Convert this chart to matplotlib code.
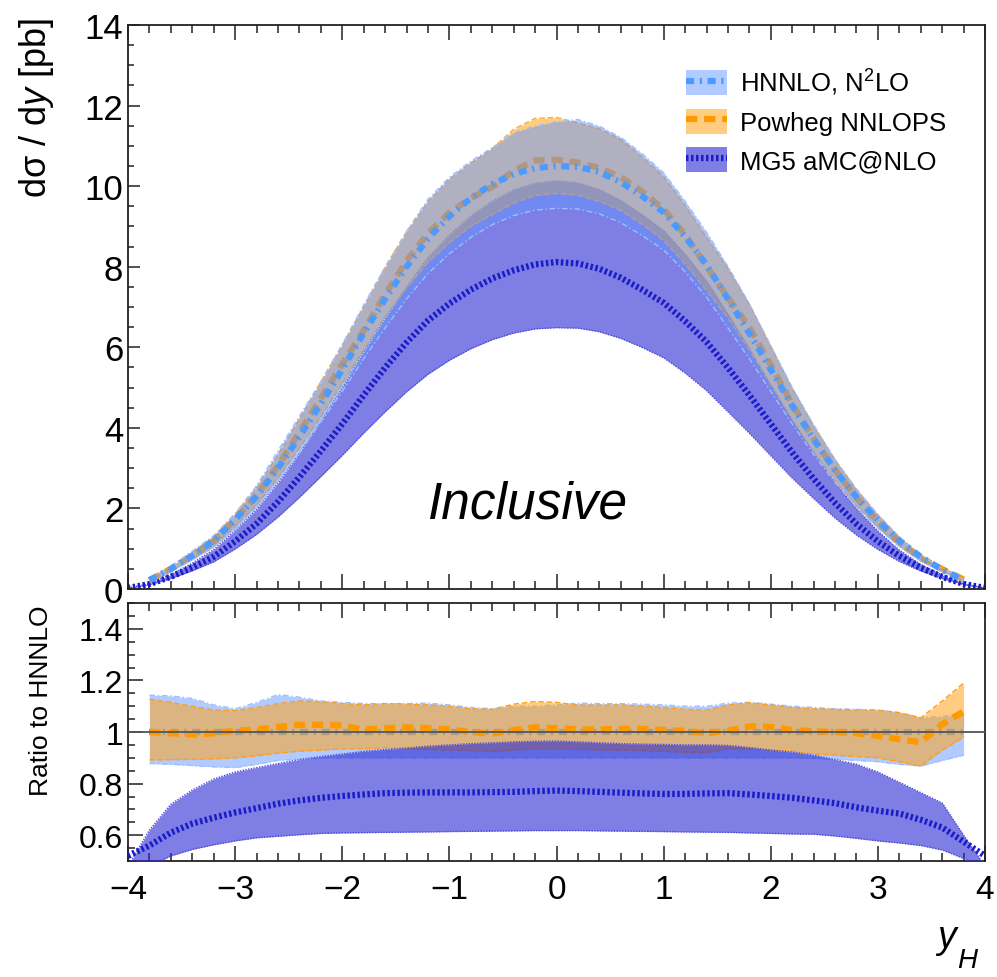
import numpy as np
import matplotlib
matplotlib.use("Agg")
import matplotlib.pyplot as plt
from matplotlib.patches import Patch
from matplotlib.lines import Line2D
from matplotlib.ticker import MultipleLocator, FixedLocator, FixedFormatter

plt.rcParams['font.family'] = ['Liberation Sans', 'DejaVu Sans']
plt.rcParams['mathtext.fontset'] = 'custom'
plt.rcParams['mathtext.rm'] = 'Liberation Sans'
plt.rcParams['mathtext.it'] = 'Liberation Sans:italic'

# ---------------- data ----------------
# rapidity grid for HNNLO / Powheg
y_main = [-3.8, -3.6, -3.4, -3.2, -3.0, -2.8, -2.6, -2.4, -2.2, -2.0,
          -1.8, -1.6, -1.4, -1.2, -1.0, -0.8, -0.6, -0.4, -0.2, 0.0,
          0.2, 0.4, 0.6, 0.8, 1.0, 1.2, 1.4, 1.6, 1.8, 2.0,
          2.2, 2.4, 2.6, 2.8, 3.0, 3.2, 3.4, 3.6, 3.8]
# rapidity grid for MG5 (extends to the edges)
y_mg5 = [-4.0] + y_main + [4.0]

# HNNLO central dsigma/dy [pb]
hnnlo_central = [0.22, 0.50, 0.83, 1.20, 1.72, 2.30, 3.00, 3.78, 4.60, 5.45,
                 6.35, 7.20, 8.00, 8.70, 9.25, 9.70, 10.05, 10.30, 10.45, 10.50,
                 10.48, 10.35, 10.10, 9.75, 9.35, 8.75, 8.05, 7.20, 6.35, 5.45,
                 4.55, 3.72, 2.95, 2.28, 1.70, 1.20, 0.80, 0.48, 0.22]
hnnlo_edge_value = 0.05  # value at |y| = 4
# HNNLO uncertainty band, relative to HNNLO central
hnnlo_up = [1.143, 1.140, 1.130, 1.105, 1.090, 1.115, 1.145, 1.135, 1.120, 1.115,
            1.110, 1.110, 1.110, 1.112, 1.105, 1.095, 1.090, 1.100, 1.100, 1.105,
            1.112, 1.110, 1.110, 1.108, 1.105, 1.100, 1.100, 1.112, 1.115, 1.108,
            1.100, 1.095, 1.090, 1.088, 1.085, 1.075, 1.055, 1.060, 1.070]
hnnlo_dn = [0.878, 0.875, 0.870, 0.865, 0.862, 0.875, 0.890, 0.895, 0.900, 0.900,
            0.900, 0.900, 0.900, 0.900, 0.900, 0.900, 0.900, 0.900, 0.900, 0.900,
            0.900, 0.900, 0.900, 0.900, 0.900, 0.900, 0.900, 0.900, 0.900, 0.900,
            0.900, 0.898, 0.895, 0.890, 0.885, 0.875, 0.868, 0.890, 0.910]

# Powheg NNLOPS, ratio to HNNLO
powheg_ratio = [1.000, 0.995, 0.990, 0.995, 1.005, 1.010, 1.020, 1.028, 1.028, 1.025,
                1.010, 1.015, 1.018, 1.015, 1.010, 1.000, 0.993, 1.008, 1.018, 1.015,
                1.010, 1.010, 1.012, 1.012, 1.008, 1.005, 0.995, 1.005, 1.022, 1.020,
                1.008, 1.003, 1.000, 0.995, 0.985, 0.972, 0.960, 1.030, 1.080]
powheg_up = [1.127, 1.115, 1.100, 1.085, 1.083, 1.095, 1.110, 1.120, 1.118, 1.110,
             1.105, 1.110, 1.108, 1.105, 1.100, 1.090, 1.088, 1.108, 1.118, 1.115,
             1.104, 1.104, 1.105, 1.100, 1.095, 1.088, 1.085, 1.105, 1.113, 1.105,
             1.095, 1.090, 1.088, 1.085, 1.085, 1.075, 1.055, 1.120, 1.190]
powheg_dn = [0.892, 0.893, 0.894, 0.896, 0.900, 0.908, 0.918, 0.926, 0.930, 0.935,
             0.935, 0.939, 0.935, 0.932, 0.930, 0.928, 0.925, 0.930, 0.935, 0.935,
             0.933, 0.930, 0.930, 0.928, 0.925, 0.922, 0.920, 0.935, 0.935, 0.930,
             0.925, 0.915, 0.910, 0.905, 0.900, 0.885, 0.868, 0.930, 0.980]

# MG5 aMC@NLO, ratio to HNNLO
mg5_ratio = [0.520, 0.560, 0.610, 0.645, 0.668, 0.688, 0.705, 0.722, 0.735, 0.745, 0.752,
             0.758, 0.763, 0.765, 0.766, 0.766, 0.766, 0.767, 0.768, 0.771, 0.773,
             0.771, 0.768, 0.765, 0.762, 0.760, 0.760, 0.762, 0.763, 0.758, 0.752,
             0.745, 0.735, 0.724, 0.708, 0.695, 0.684, 0.660, 0.630, 0.575, 0.520]
mg5_up = [0.480, 0.620, 0.720, 0.775, 0.818, 0.845, 0.862, 0.878, 0.893, 0.905, 0.915,
          0.925, 0.932, 0.938, 0.945, 0.950, 0.955, 0.958, 0.962, 0.964, 0.965,
          0.962, 0.958, 0.955, 0.953, 0.952, 0.950, 0.950, 0.948, 0.940, 0.930,
          0.922, 0.910, 0.893, 0.875, 0.845, 0.805, 0.765, 0.725, 0.600, 0.480]
mg5_dn = [0.450, 0.480, 0.520, 0.545, 0.563, 0.578, 0.590, 0.596, 0.602, 0.607, 0.609,
          0.610, 0.611, 0.612, 0.613, 0.614, 0.615, 0.616, 0.617, 0.618, 0.618,
          0.618, 0.617, 0.616, 0.615, 0.614, 0.613, 0.612, 0.611, 0.609, 0.607,
          0.605, 0.604, 0.597, 0.588, 0.578, 0.570, 0.560, 0.543, 0.510, 0.470]

labels = ["HNNLO, N$^{2}$LO", "Powheg NNLOPS", "MG5 aMC@NLO"]

# ---------------- derived absolute values ----------------
ym = np.array(y_main)
yg = np.array(y_mg5)
hc = np.array(hnnlo_central)
hc_full = np.concatenate([[hnnlo_edge_value], hc, [hnnlo_edge_value]])
h_up, h_dn = hc * np.array(hnnlo_up), hc * np.array(hnnlo_dn)
p_c = hc * np.array(powheg_ratio)
p_up, p_dn = hc * np.array(powheg_up), hc * np.array(powheg_dn)
m_c = hc_full * np.array(mg5_ratio)
m_up, m_dn = hc_full * np.array(mg5_up), hc_full * np.array(mg5_dn)

# ---------------- styles ----------------
c_h_fill = (100/255, 150/255, 1.0); a_h = 0.5
c_h_line = '#4d9aff'
c_p_fill = '#ffa31a'; a_p = 0.55
c_p_line = '#ff9900'
c_m_fill = (40/255, 40/255, 210/255); a_m = 0.6
c_m_line = '#1c1cc8'
lw = 4.5
ds_h = (1.3, 0.9, 0.35, 0.9)
ds_p = (1.8, 1.1)
ds_m = (0.4, 0.4)

fig = plt.figure(figsize=(9.97, 9.78), dpi=100)
ax1 = fig.add_axes([0.1284, 0.3967, 0.8596, 0.5767])
ax2 = fig.add_axes([0.1284, 0.1186, 0.8596, 0.2638])


def band(ax, x, lo, hi, color, alpha, ecolor, edash, z):
    ax.fill_between(x, lo, hi, color=color, alpha=alpha, lw=0, zorder=z)
    for e in (lo, hi):
        ax.plot(x, e, color=ecolor, lw=1.0, dashes=edash, zorder=z + 0.1)


# top panel: MG5, Powheg, HNNLO
band(ax1, yg, m_dn, m_up, c_m_fill, a_m, '#4a4ae0', (1, 1), 1)
ax1.plot(yg, m_c, color=c_m_line, lw=lw, dashes=ds_m, dash_capstyle='butt', zorder=2)
band(ax1, ym, p_dn, p_up, c_p_fill, a_p, '#ffaa33', (4, 2), 3)
ax1.plot(ym, p_c, color=c_p_line, lw=lw, dashes=ds_p, dash_capstyle='butt', zorder=4)
band(ax1, ym, h_dn, h_up, c_h_fill, a_h, '#9dbfff', (4, 2, 1, 2), 5)
ax1.plot(ym, hc, color=c_h_line, lw=lw, dashes=ds_h, dash_capstyle='butt', zorder=6)

# ratio panel: HNNLO, Powheg, MG5
band(ax2, ym, hnnlo_dn, hnnlo_up, c_h_fill, a_h, '#9dbfff', (4, 2, 1, 2), 1)
ax2.plot(ym, np.ones_like(ym), color=c_h_line, lw=lw, dashes=ds_h,
         dash_capstyle='butt', zorder=2)
band(ax2, ym, powheg_dn, powheg_up, c_p_fill, a_p, '#ff9f1a', (4, 2), 3)
ax2.plot(ym, powheg_ratio, color=c_p_line, lw=lw, dashes=ds_p,
         dash_capstyle='butt', zorder=4)
band(ax2, yg, mg5_dn, mg5_up, c_m_fill, a_m, '#4a4ae0', (1, 1), 5)
ax2.plot(yg, mg5_ratio, color=c_m_line, lw=lw, dashes=ds_m,
         dash_capstyle='butt', zorder=6)
ax2.axhline(1.0, color='#555555', lw=1.3, zorder=7)

# axes formatting
for ax in (ax1, ax2):
    ax.set_xlim(-4, 4)
    ax.xaxis.set_major_locator(MultipleLocator(1))
    ax.xaxis.set_minor_locator(MultipleLocator(0.2))
    for s in ax.spines.values():
        s.set_color('#222222')
        s.set_linewidth(1.3)
    ax.tick_params(which='both', direction='in', top=True, right=False,
                   color='#222222', width=1.1)
    ax.tick_params(axis='x', which='major', length=10.5)
    ax.tick_params(axis='x', which='minor', length=5.5)

ax1.set_ylim(0, 14)
ax1.yaxis.set_major_locator(MultipleLocator(2))
ax1.yaxis.set_minor_locator(MultipleLocator(0.5))
ax1.tick_params(axis='y', which='major', length=8.5, labelsize=25)
ax1.tick_params(axis='y', which='minor', length=4.5)
ax1.tick_params(axis='x', labelbottom=False)

ax2.set_ylim(0.5, 1.5)
ax2.yaxis.set_major_locator(FixedLocator([0.6, 0.8, 1.0, 1.2, 1.4]))
ax2.yaxis.set_major_formatter(FixedFormatter(['0.6', '0.8', '1', '1.2', '1.4']))
ax2.yaxis.set_minor_locator(MultipleLocator(0.05))
ax2.tick_params(axis='y', which='major', length=10.5, labelsize=23)
ax2.tick_params(axis='y', which='minor', length=5)
ax2.tick_params(axis='x', labelsize=24, pad=9)

# texts
ax1.text(-0.27, 2.1, 'Inclusive', style='italic', fontsize=37,
         ha='center', va='center')
fig.text(36/997, 1 - 18/978, 'd\u03c3 / d$\\mathit{y}$ [pb]', rotation=90,
         ha='center', va='top', fontsize=26)
fig.text(41/997, 1 - 606/978, 'Ratio to HNNLO', rotation=90,
         ha='center', va='top', fontsize=19)
fig.text(937/997, 1 - 948/978, 'y', style='italic', fontsize=27,
         ha='left', va='baseline')
fig.text(957/997, 1 - 968/978, 'H', style='italic', fontsize=20,
         ha='left', va='baseline')

# legend
h1 = (Patch(fc=c_h_fill, alpha=a_h, ec='none'),
      Line2D([], [], color=c_h_line, lw=lw, dashes=ds_h, dash_capstyle='butt'))
h2 = (Patch(fc=c_p_fill, alpha=a_p, ec='none'),
      Line2D([], [], color=c_p_line, lw=lw, dashes=ds_p, dash_capstyle='butt'))
h3 = (Patch(fc=c_m_fill, alpha=a_m, ec='none'),
      Line2D([], [], color=c_m_line, lw=lw, dashes=ds_m, dash_capstyle='butt'))
fig.legend([h1, h2, h3], labels, loc='upper left',
           bbox_to_anchor=(686/997, 1 - 68/978), bbox_transform=fig.transFigure,
           frameon=False, fontsize=18.5, handlelength=1.6, handleheight=1.15,
           handletextpad=0.5, labelspacing=0.45, borderpad=0, borderaxespad=0)

fig.savefig('out.png', dpi=100)
